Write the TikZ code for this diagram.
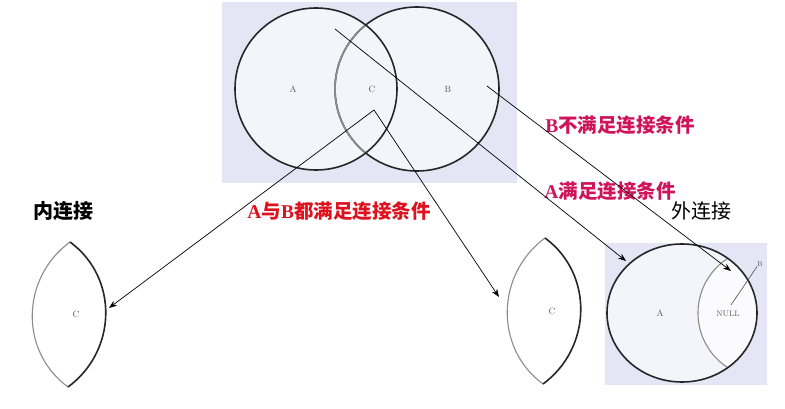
\documentclass[tikz,border=0pt]{standalone}
\usepackage{fontspec}
\newfontfamily\cjk{Noto Sans CJK SC}
\newfontfamily\lat{Liberation Serif}
\usetikzlibrary{arrows.meta}
\definecolor{panel}{RGB}{229,229,246}
\definecolor{inner}{RGB}{244,244,251}
\definecolor{redtxt}{RGB}{222,18,30}
\definecolor{pinktxt}{RGB}{208,20,92}
\definecolor{lensgray}{RGB}{140,140,140}
\newcommand{\latletter}[1]{{\lat\bfseries #1}}
\begin{document}
\begin{tikzpicture}[x=1pt,y=-1pt,
  bigtext/.style={font=\cjk\fontsize{20}{24}\selectfont, inner sep=0pt},
  condtext/.style={font=\cjk\bfseries\fontsize{19.5}{24}\selectfont, inner sep=0pt},
  setlabel/.style={font=\fontsize{9}{10}\selectfont, text=black!65, inner sep=0pt},
  arr/.style={draw=black, line width=0.7pt, -{Stealth[length=8pt,width=6pt]}},
  outline/.style={draw=black!85, line width=1.6pt},
  grayline/.style={draw=lensgray, line width=1.1pt}]
\useasboundingbox (0,0) rectangle (785,409);
\fill[white] (0,0) rectangle (785,409);

% ---------- top Venn diagram ----------
\fill[panel] (222,2) rectangle (517,183);
\fill[inner] (316,89) circle (81);
\fill[inner] (417,89) circle (82);
\draw[outline] (417,89) circle (82);
\begin{scope}
  \clip (316,89) circle (81);
  \draw[grayline, line width=1.6pt, draw=black!45] (417,89) circle (82);
\end{scope}
\draw[outline] (316,89) circle (81);
\node[setlabel] (lA) at (293,89) {A};
\node[setlabel] (lC) at (372,89) {C};
\node[setlabel] (lB) at (448,89) {B};

% ---------- outer join panel ----------
\fill[panel] (605,243) rectangle (767,385);
\fill[inner] (682,313) ellipse [x radius=75, y radius=69];
\begin{scope}
  \clip (682,313) ellipse [x radius=75, y radius=69];
  \fill[white!60!inner] (763,313) circle (65);
  \draw[grayline] (763,313) circle (65);
\end{scope}
\draw[outline] (682,313) ellipse [x radius=75, y radius=69];
\node[setlabel] (oA) at (660,313) {A};
\node[setlabel, font=\fontsize{8}{9}\selectfont] (oNull) at (728,314) {NULL};
\node[setlabel, font=\fontsize{7}{8}\selectfont] (oB) at (760,264) {B};
\coordinate (nullTip) at (731,305);
\draw[black!70, line width=0.6pt] (nullTip) -- (oB.south west);

% ---------- inner join lens ----------
\coordinate (L1t) at (70,242);
\coordinate (L1b) at (68,387);
\draw[grayline] (L1t) .. controls +(-49,36) and +(-49,-36) .. (L1b);
\draw[outline] (L1t) .. controls +(49,36) and +(49,-36) .. (L1b);
\node[setlabel] (lensC1) at (76,314) {C};

% ---------- middle lens ----------
\coordinate (L2t) at (545,238);
\coordinate (L2b) at (543,384);
\draw[grayline] (L2t) .. controls +(-49,36) and +(-49,-36) .. (L2b);
\draw[outline] (L2t) .. controls +(49,36) and +(49,-36) .. (L2b);
\node[setlabel] (lensC2) at (552,311) {C};

% ---------- texts ----------
\node[bigtext, font=\cjk\bfseries\fontsize{20}{24}\selectfont] (inner) at (64,211) {内连接};
\node[bigtext] (outer) at (701,211) {外连接};
\node[condtext, text=redtxt] (both) at (339,211) {\latletter{A}与\latletter{B}都满足连接条件};
\node[condtext, text=pinktxt] (bnot) at (620,125) {\latletter{B}不满足连接条件};
\node[condtext, text=pinktxt] (aok) at (610,191) {\latletter{A}满足连接条件};

% ---------- connectors ----------
\coordinate (srcA) at (335,29);
\coordinate (srcB) at (487,86);
\coordinate (srcC) at (374,110);
\coordinate (dstOA) at (626,261);
\coordinate (dstOB) at (731,271);
\coordinate (dstL1) at (109,308);
\coordinate (dstL2) at (499,297);
\draw[arr] (srcA) -- (dstOA);
\draw[arr] (srcB) -- (dstOB);
\draw[arr] (srcC) -- (dstL1);
\draw[arr] (srcC) -- (dstL2);
\end{tikzpicture}
\end{document}
